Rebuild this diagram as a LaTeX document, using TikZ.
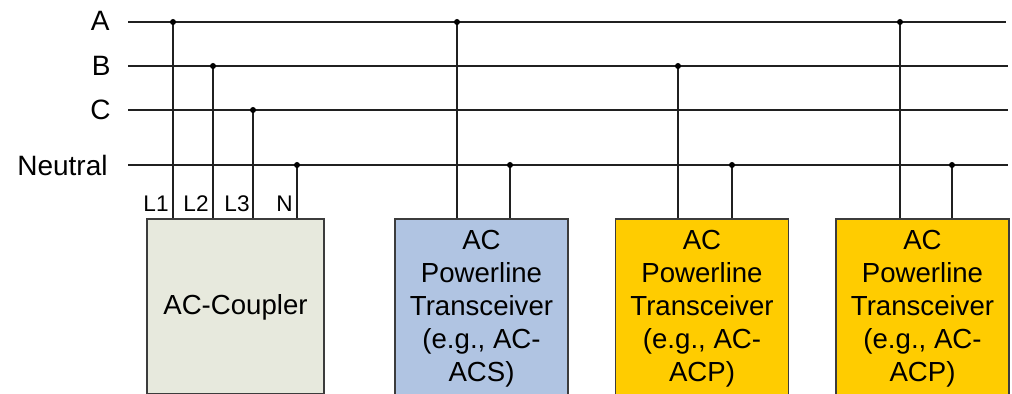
\documentclass[tikz,border=0pt]{standalone}
\usepackage{fontspec}
\setmainfont{Liberation Sans}
\definecolor{couplerfill}{HTML}{E7E9DD}
\definecolor{acsfill}{HTML}{B0C4E2}
\definecolor{acpfill}{HTML}{FFCC00}
\definecolor{edge}{HTML}{3C3C3C}
\definecolor{wire}{HTML}{202020}
\begin{document}
\begin{tikzpicture}[x=0.5pt,y=-0.5pt,
  wireline/.style={draw=wire, line width=0.7pt},
  jdot/.style={circle, fill=black, inner sep=0pt, minimum size=3pt},
  busname/.style={anchor=east, inner sep=0pt, font=\fontsize{14}{16}\selectfont},
  pinname/.style={anchor=south east, inner sep=0pt, font=\fontsize{11.3}{13}\selectfont},
  unitbox/.style={draw=edge, line width=0.8pt, rectangle, minimum width=86.5pt, anchor=north},
  unittext/.style={align=center, inner sep=0pt, font=\fontsize{13.8}{16.5}\selectfont}]
\clip (0,0) rectangle (1012,394);
\fill[white] (0,0) rectangle (1012,394);
% bus lines
\coordinate (aL) at (128,22);  \coordinate (aR) at (1006,22);
\coordinate (bL) at (128,66);  \coordinate (bR) at (1008,66);
\coordinate (cL) at (128,110); \coordinate (cR) at (1008,110);
\coordinate (nL) at (128,165); \coordinate (nR) at (1008,165);
\draw[wireline] (aL) -- (aR);
\draw[wireline] (bL) -- (bR);
\draw[wireline] (cL) -- (cR);
\draw[wireline] (nL) -- (nR);
\node[busname] (labA) at (110,21) {A};
\node[busname] (labB) at (111,66) {B};
\node[busname] (labC) at (111,110) {C};
\node[busname] (labN) at (108,165) {Neutral};
% boxes
\node[unitbox, fill=couplerfill, minimum width=88.5pt, minimum height=87.5pt] (coup) at (235.5,218) {};
\node[unittext] (coupT) at (235.5,307) {AC-Coupler};
\node[unitbox, fill=acsfill, minimum height=95pt] (ts1) at (481.5,218) {};
\node[unittext] (ts1T) at (481.5,308.5) {AC\\Powerline\\Transceiver\\(e.g., AC-\\ACS)};
\node[unitbox, fill=acpfill, minimum height=95pt] (ts2) at (702,218) {};
\node[unittext] (ts2T) at (702,308.5) {AC\\Powerline\\Transceiver\\(e.g., AC-\\ACP)};
\node[unitbox, fill=acpfill, minimum height=95pt] (ts3) at (922.5,218) {};
\node[unittext] (ts3T) at (922.5,308.5) {AC\\Powerline\\Transceiver\\(e.g., AC-\\ACP)};
% junctions
\coordinate (j1) at (173,22);
\coordinate (j2) at (213,66);
\coordinate (j3) at (253,110);
\coordinate (j4) at (297,165);
\coordinate (j5) at (457,22);
\coordinate (j6) at (510,165);
\coordinate (j7) at (678,66);
\coordinate (j8) at (732,165);
\coordinate (j9) at (900,22);
\coordinate (j10) at (952,165);
\foreach \j/\b in {j1/coup,j2/coup,j3/coup,j4/coup,j5/ts1,j6/ts1,j7/ts2,j8/ts2,j9/ts3,j10/ts3}{
  \draw[wireline] (\j) -- (\j |- \b.north);
  \node[jdot] at (\j) {};
}
% pin labels
\node[pinname] (p1) at (169,212) {L1};
\node[pinname] (p2) at (209,212) {L2};
\node[pinname] (p3) at (250,212) {L3};
\node[pinname] (p4) at (293,212) {N};
\end{tikzpicture}
\end{document}
